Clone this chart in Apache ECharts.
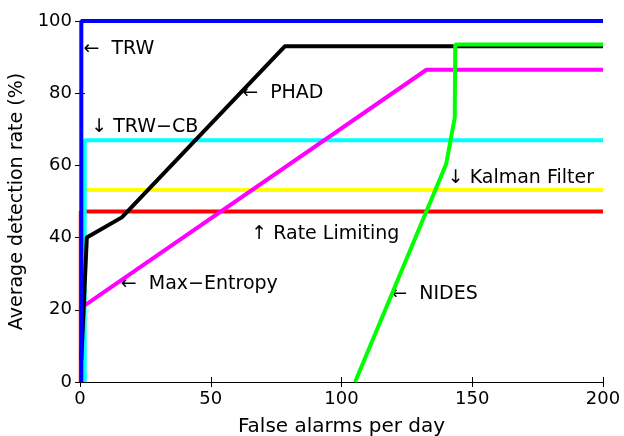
<!DOCTYPE html>
<html lang="en">
<head>
    <meta charset="UTF-8">
    <title>Detection rate vs false alarms</title>
    <script src="https://cdn.jsdelivr.net/npm/echarts@6/dist/echarts.min.js"></script>
    <style>
        html, body { margin: 0; padding: 0; background: #fff; }
        #chart { width: 624px; height: 436px; }
    </style>
</head>
<body>
<div id="chart"></div>
<script>
    // curves, [false alarms per day, detection rate %]
    var trw = [[0.5, 0], [0.5, 100], [200, 100]];
    var trwCb = [[1.8, 0], [1.8, 67], [200, 67]];
    var kalman = [[0.7, 0], [0.7, 53.2], [200, 53.2]];
    var rateLimit = [[0.3, 0], [0.3, 47.2], [200, 47.2]];
    var maxEntropy = [[0, 20.3], [132.5, 86.5], [200, 86.5]];
    var phad = [[0.5, 6], [2.6, 40], [16, 45.6], [78.3, 93], [200, 93]];
    var nides = [[105.2, 0], [140, 60.3], [143.3, 73.2], [143.5, 93.5], [200, 93.5]];

    // annotation text and where its left edge sits (data units)
    var noteText = ['←  TRW', '↓ TRW−CB', '←  PHAD', '↓ Kalman Filter', '↑ Rate Limiting', '←  Max−Entropy', '←  NIDES'];
    var noteAt = [[1.3, 92.2], [4.3, 70.6], [62, 80], [140.6, 56.6], [65.5, 41.1], [15.6, 27.1], [119, 24.4]];

    var font = 'DejaVu Sans, sans-serif';

    function curve(data, color, w) {
        return {
            type: 'line', data: data, symbol: 'none', animation: false,
            lineStyle: { color: color, width: w || 4 }
        };
    }

    var chart = echarts.init(document.getElementById('chart'));
    var axisCommon = {
        axisLine: { lineStyle: { color: '#000', width: 1 } },
        axisTick: { inside: true, length: 5, lineStyle: { color: '#000' } },
        splitLine: { show: false }
    };
    var option = {
        backgroundColor: '#fff',
        grid: { left: 80, right: 21, top: 21, bottom: 54, outerBoundsMode: 'none', containLabel: false },
        xAxis: [
            Object.assign({
                type: 'value', min: 0, max: 200, interval: 50,
                name: 'False alarms per day', nameLocation: 'middle', nameGap: 35,
                nameTextStyle: { color: '#000', fontSize: 20, fontFamily: font },
                axisLabel: { color: '#000', fontSize: 18, fontFamily: font, margin: 8 }
            }, axisCommon),
            Object.assign({
                type: 'value', min: 0, max: 200, interval: 50, position: 'top',
                axisLabel: { show: false }
            }, axisCommon)
        ],
        yAxis: [
            Object.assign({
                type: 'value', min: 0, max: 100, interval: 20,
                name: 'Average detection rate (%)', nameLocation: 'middle', nameGap: 52,
                nameTextStyle: { color: '#000', fontSize: 19, fontFamily: font },
                axisLabel: { color: '#000', fontSize: 18, fontFamily: font, margin: 8 }
            }, axisCommon),
            Object.assign({
                type: 'value', min: 0, max: 100, interval: 20, position: 'right',
                axisLabel: { show: false }
            }, axisCommon)
        ],
        series: [
            curve(rateLimit, '#ff0000'),
            curve(kalman, '#ffff00'),
            curve(trwCb, '#00ffff'),
            curve(maxEntropy, '#ff00ff'),
            curve(phad, '#000000'),
            curve(nides, '#00ff00'),
            curve(trw, '#0000ff'),
            {
                type: 'scatter', symbolSize: 0, animation: false, silent: true,
                itemStyle: { opacity: 1 },
                data: noteAt.map(function (p, i) { return { value: p, name: noteText[i] }; }),
                label: {
                    show: true, position: 'right', distance: 0, opacity: 1,
                    formatter: '{b}', color: '#000', fontSize: 19, fontFamily: font
                }
            }
        ]
    };
    chart.setOption(option);
</script>
</body>
</html>
